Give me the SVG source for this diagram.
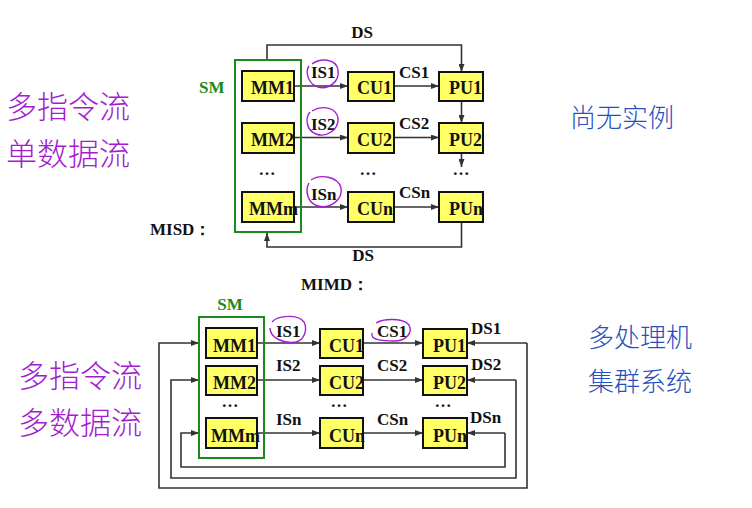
<svg xmlns="http://www.w3.org/2000/svg" width="752" height="508" viewBox="0 0 752 508">
<style>
.bx{fill:#ffff66;stroke:#111;stroke-width:2}
.sm{fill:none;stroke:#1a8a1a;stroke-width:2}
.t{font-family:"Liberation Serif",serif;font-weight:bold;font-size:18px;fill:#111}
.l{font-family:"Liberation Serif",serif;font-weight:bold;font-size:17px;fill:#111}
.g{font-family:"Liberation Serif",serif;font-weight:bold;font-size:17px;fill:#1a8a1a}
.c{fill:none;stroke:#333;stroke-width:1.6}
.hw{fill:none;stroke:#a41ccf;stroke-width:1.4}
.hp{font-family:"Noto Sans CJK SC",sans-serif;font-size:31px;fill:#a41ccf;font-weight:300}
.hb{font-family:"Noto Sans CJK SC",sans-serif;font-size:26px;fill:#2650c0;font-weight:300}
</style>
<defs>
<marker id="ah" markerUnits="userSpaceOnUse" markerWidth="8" markerHeight="6" refX="8" refY="3" orient="auto">
<path d="M0,0 L8,3 L0,6 z" fill="#333"/>
</marker>
</defs>
<rect width="752" height="508" fill="#fff"/>

<!-- connectors -->
<g id="connectors" class="c" marker-end="url(#ah)">
<path d="M267,60 V45 H461.5 V72"/>
<path d="M461.5,222 V247 H267 V233"/>
<path d="M294,86 H348"/>
<path d="M294,137.5 H348"/>
<path d="M294,207 H348"/>
<path d="M394,86 H439"/>
<path d="M394,137.5 H439"/>
<path d="M394,207 H439"/>
<path d="M461.5,101 V123"/>
<path d="M461.5,153 V167"/>
<path d="M257,343 H320"/>
<path d="M257,380 H320"/>
<path d="M257,433 H320"/>
<path d="M363,343 H423"/>
<path d="M363,380 H423"/>
<path d="M363,433 H423"/>
<path d="M527,343 H467"/>
<path d="M527,343 V488 H159 V343 H199"/>
<path d="M516,380 H467"/>
<path d="M516,380 V478 H171 V380 H199"/>
<path d="M505,433 H467"/>
<path d="M505,433 V467 H181 V433 H199"/>
</g>

<!-- MISD -->
<g id="misd-title"><text class="l" x="150" y="235">MISD：</text></g>
<g id="misd-sm">
<rect class="sm" x="235" y="60" width="66" height="172"/>
<text class="g" x="199" y="93">SM</text>
</g>
<g id="misd-mm1"><rect class="bx" x="242" y="71" width="52" height="30"/><text class="t" x="251" y="94">MM1</text></g>
<g id="misd-mm2"><rect class="bx" x="242" y="123" width="52" height="30"/><text class="t" x="251" y="146">MM2</text></g>
<g id="misd-mmm"><rect class="bx" x="242" y="192" width="52" height="30"/><text class="t" x="249" y="215">MMm</text></g>
<g id="misd-cu1"><rect class="bx" x="348" y="72" width="46" height="29"/><text class="t" x="357" y="94">CU1</text></g>
<g id="misd-cu2"><rect class="bx" x="348" y="123" width="46" height="30"/><text class="t" x="357" y="146">CU2</text></g>
<g id="misd-cun"><rect class="bx" x="348" y="192" width="46" height="30"/><text class="t" x="357" y="215">CUn</text></g>
<g id="misd-pu1"><rect class="bx" x="439" y="72" width="44" height="29"/><text class="t" x="449" y="94">PU1</text></g>
<g id="misd-pu2"><rect class="bx" x="439" y="123" width="44" height="30"/><text class="t" x="449" y="146">PU2</text></g>
<g id="misd-pun"><rect class="bx" x="439" y="192" width="44" height="30"/><text class="t" x="449" y="215">PUn</text></g>
<g id="misd-labels">
<text class="l" x="362" y="38" text-anchor="middle">DS</text>
<text class="l" x="363" y="261" text-anchor="middle">DS</text>
<text class="l" x="311" y="78">IS1</text>
<text class="l" x="311" y="130">IS2</text>
<text class="l" x="311" y="200">ISn</text>
<text class="l" x="399" y="78">CS1</text>
<text class="l" x="399" y="129">CS2</text>
<text class="l" x="399" y="198">CSn</text>
<text class="l" x="267" y="175" text-anchor="middle">…</text>
<text class="l" x="368" y="175" text-anchor="middle">…</text>
<text class="l" x="461" y="175" text-anchor="middle">…</text>
</g>

<!-- MIMD -->
<g id="mimd-title"><text class="l" x="301" y="290">MIMD：</text></g>
<g id="mimd-sm">
<rect class="sm" x="199" y="317" width="65" height="141"/>
<text class="g" x="230" y="310" text-anchor="middle">SM</text>
</g>
<g id="mimd-mm1"><rect class="bx" x="206" y="328" width="51" height="30"/><text class="t" x="213" y="352">MM1</text></g>
<g id="mimd-mm2"><rect class="bx" x="206" y="366" width="51" height="29"/><text class="t" x="213" y="389">MM2</text></g>
<g id="mimd-mmm"><rect class="bx" x="206" y="418" width="51" height="30"/><text class="t" x="211" y="442">MMm</text></g>
<g id="mimd-cu1"><rect class="bx" x="320" y="329" width="43" height="29"/><text class="t" x="329" y="352">CU1</text></g>
<g id="mimd-cu2"><rect class="bx" x="320" y="366" width="43" height="29"/><text class="t" x="329" y="389">CU2</text></g>
<g id="mimd-cun"><rect class="bx" x="320" y="418" width="43" height="30"/><text class="t" x="329" y="442">CUn</text></g>
<g id="mimd-pu1"><rect class="bx" x="423" y="329" width="44" height="29"/><text class="t" x="433" y="352">PU1</text></g>
<g id="mimd-pu2"><rect class="bx" x="423" y="366" width="44" height="29"/><text class="t" x="433" y="389">PU2</text></g>
<g id="mimd-pun"><rect class="bx" x="423" y="418" width="44" height="30"/><text class="t" x="433" y="442">PUn</text></g>
<g id="mimd-labels">
<text class="l" x="276" y="337">IS1</text>
<text class="l" x="276" y="371">IS2</text>
<text class="l" x="276" y="425">ISn</text>
<text class="l" x="377" y="337">CS1</text>
<text class="l" x="377" y="371">CS2</text>
<text class="l" x="377" y="425">CSn</text>
<text class="l" x="471" y="334">DS1</text>
<text class="l" x="471" y="370">DS2</text>
<text class="l" x="470" y="423">DSn</text>
<text class="l" x="230" y="407" text-anchor="middle">…</text>
<text class="l" x="339" y="407" text-anchor="middle">…</text>
<text class="l" x="443" y="407" text-anchor="middle">…</text>
</g>

<!-- handwritten annotations -->
<g id="annotations">
<path class="hw" d="M312,64 C320,58 336,58 338,70 C340,82 328,90 318,87 C308,84 305,72 309,66"/>
<path class="hw" d="M312,111 C322,105 336,107 338,118 C339,130 326,138 316,134 C306,130 305,118 310,112"/>
<path class="hw" d="M311,180 C320,174 338,176 341,188 C343,200 330,209 318,206 C307,203 305,190 309,183"/>
<path class="hw" d="M272,322 C278,315 298,314 304,322 C308,330 304,340 296,342 C284,344 270,338 270,328"/>
<path class="hw" d="M376,323 C384,318 404,318 409,325 C413,333 406,341 394,341 C382,341 370,340 372,333"/>
<text class="hp" x="6" y="118">多指令流</text>
<text class="hp" x="6" y="165">单数据流</text>
<text class="hp" x="18" y="387">多指令流</text>
<text class="hp" x="18" y="434">多数据流</text>
<text class="hb" x="570" y="127" font-size="32">尚无实例</text>
<text class="hb" x="588" y="347">多处理机</text>
<text class="hb" x="588" y="391">集群系统</text>
</g>
</svg>
